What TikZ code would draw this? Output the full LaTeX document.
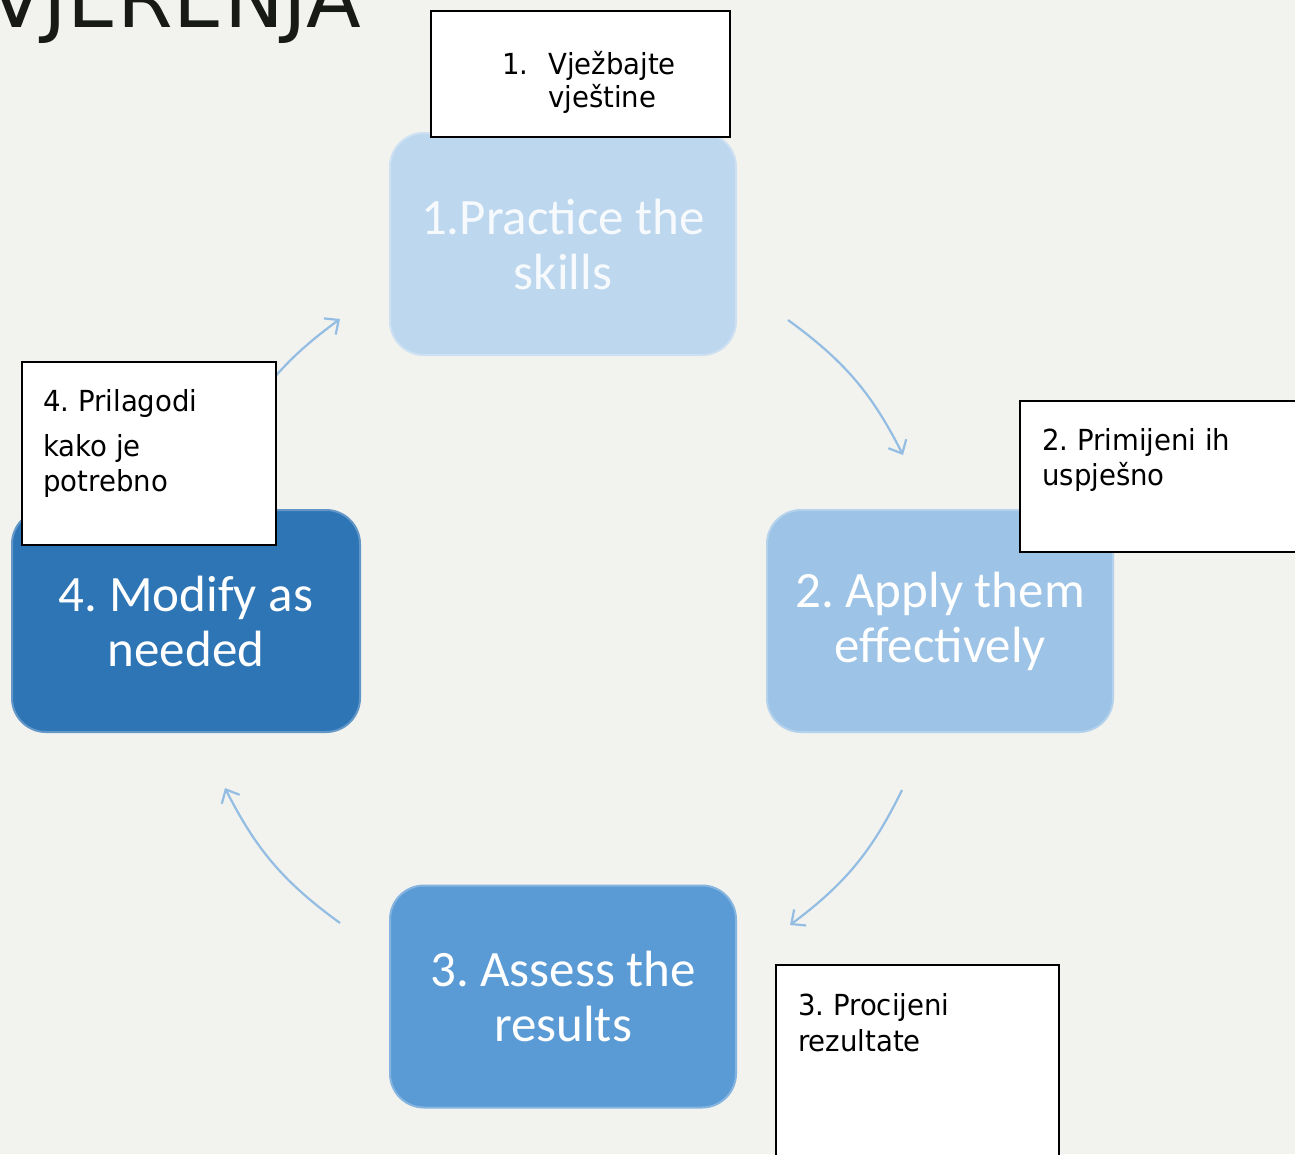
\documentclass[tikz,border=0pt]{standalone}
\usepackage{fontspec}
\setmainfont{DejaVu Sans}
\newfontfamily\condfont{DejaVu Sans}[FakeStretch=0.95]
\newfontfamily\calfont{Carlito}
\usetikzlibrary{arrows.meta}
\definecolor{bgcol}{HTML}{F2F2EE}
\definecolor{bone}{HTML}{BDD7EE}
\definecolor{btwo}{HTML}{9DC3E6}
\definecolor{bthree}{HTML}{5B9BD5}
\definecolor{bfour}{HTML}{2E75B6}
\definecolor{arrblue}{HTML}{93BDE3}
\definecolor{titlecol}{HTML}{181A16}
\begin{document}
\frenchspacing
\begin{tikzpicture}[x=1pt,y=-1pt,
  blubox/.style={rounded corners=34pt, minimum width=346pt, minimum height=222pt,
    inner sep=0pt, align=center, text=white,
    font=\calfont\fontsize{51}{57}\selectfont,
    draw=#1!75!white, line width=2pt, fill=#1},
  wbox/.style={draw=black, line width=2pt, fill=white, inner sep=0pt},
  wtext/.style={anchor=base west, inner sep=0pt,
    font=\condfont\fontsize{29}{34}\selectfont, text=black},
  arr/.style={draw=arrblue, line width=2.2pt,
    -{Straight Barb[length=11pt,width=20pt,line width=2.2pt]}}
]
\clip (0,0) rectangle (1295,1154);
\fill[bgcol] (0,0) rectangle (1295,1154);

% title (cut at the top edge)
\node[anchor=base east, inner sep=0pt, text=titlecol,
  font=\fontsize{80}{80}\selectfont] (title) at (361,27) {VJERENJA};

% arrow end points
\coordinate (a1s) at (788,320);
\coordinate (a1e) at (903,455);
\coordinate (a2s) at (902,790);
\coordinate (a2e) at (790,925);
\coordinate (a3s) at (340,923);
\coordinate (a3e) at (225,788);
\coordinate (a4s) at (225,455);
\coordinate (a4e) at (340,319);

\draw[arr] (a1s) to[bend left=13.6] (a1e);
\draw[arr] (a2s) to[bend left=13.6] (a2e);
\draw[arr] (a3s) to[bend left=13.6] (a3e);
\draw[arr] (a4s) to[bend left=13.6] (a4e);

% blue step boxes
\node[blubox=bone, text=white!88!bone] (s1) at (563,244) {1.Practice the\\[-2pt]skills};
\node[blubox=btwo] (s2) at (940,621) {2. Apply them\\[-2pt]effectively};
\node[blubox=bthree] (s3) at (563,996.5) {3. Assess the\\[-2pt]results};
\node[blubox=bfour, minimum width=348pt] (s4) at (186,621) {4. Modify as\\[-2pt]needed};

% white label boxes
\node[wbox, minimum width=299pt, minimum height=126pt] (wa) at (580.5,74) {};
\node[wtext] (wa1n) at (502,74) {1.};
\node[wtext] (wa1) at (548,74) {Vježbajte};
\node[wtext] (wa2) at (548,107) {vještine};

\node[wbox, minimum width=254pt, minimum height=183pt] (wb) at (149,453.5) {};
\node[wtext] (wb1) at (43,411) {4. Prilagodi};
\node[wtext] (wb2) at (43,456) {kako je};
\node[wtext] (wb3) at (43,491) {potrebno};

\node[wbox, minimum width=300pt, minimum height=151pt] (wc) at (1170,476.5) {};
\node[wtext] (wc1) at (1042,450) {2. Primijeni ih};
\node[wtext] (wc2) at (1042,485) {uspješno};

\node[wbox, minimum width=283pt, minimum height=215pt] (wd) at (917.5,1072.5) {};
\node[wtext] (wd1) at (798,1015) {3. Procijeni};
\node[wtext] (wd2) at (798,1051) {rezultate};
\end{tikzpicture}
\end{document}
